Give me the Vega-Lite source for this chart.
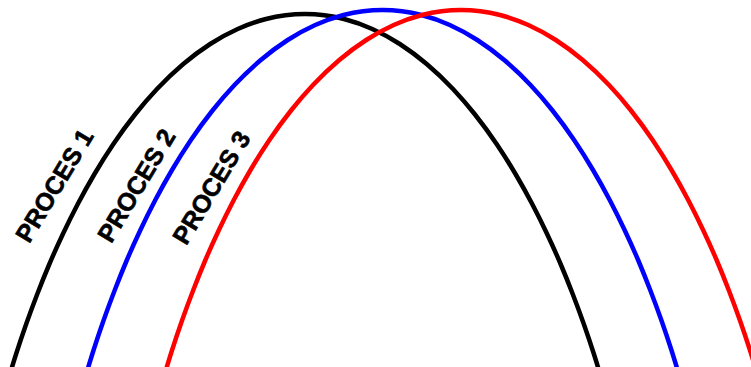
{
  "$schema": "https://vega.github.io/schema/vega-lite/v6.json",
  "width": 751,
  "height": 367,
  "padding": 0,
  "autosize": {"type": "fit", "contains": "padding"},
  "background": "white",
  "config": {"view": {"stroke": null}},
  "datasets": {
    "curves": [
      {"proces": "PROCES 1", "t": 6.9, "level": -17},
      {"proces": "PROCES 1", "t": 16.1, "level": 13},
      {"proces": "PROCES 1", "t": 26.2, "level": 43},
      {"proces": "PROCES 1", "t": 37.3, "level": 73},
      {"proces": "PROCES 1", "t": 49.4, "level": 103},
      {"proces": "PROCES 1", "t": 62.9, "level": 133},
      {"proces": "PROCES 1", "t": 77.8, "level": 163},
      {"proces": "PROCES 1", "t": 94.5, "level": 193},
      {"proces": "PROCES 1", "t": 113.4, "level": 223},
      {"proces": "PROCES 1", "t": 135.4, "level": 253},
      {"proces": "PROCES 1", "t": 157.0, "level": 278},
      {"proces": "PROCES 1", "t": 183.3, "level": 303},
      {"proces": "PROCES 1", "t": 210.2, "level": 323},
      {"proces": "PROCES 1", "t": 237.7, "level": 338},
      {"proces": "PROCES 1", "t": 266.0, "level": 348},
      {"proces": "PROCES 1", "t": 305.0, "level": 353},
      {"proces": "PROCES 1", "t": 344.0, "level": 348},
      {"proces": "PROCES 1", "t": 372.3, "level": 338},
      {"proces": "PROCES 1", "t": 399.8, "level": 323},
      {"proces": "PROCES 1", "t": 426.7, "level": 303},
      {"proces": "PROCES 1", "t": 453.0, "level": 278},
      {"proces": "PROCES 1", "t": 474.6, "level": 253},
      {"proces": "PROCES 1", "t": 496.6, "level": 223},
      {"proces": "PROCES 1", "t": 515.5, "level": 193},
      {"proces": "PROCES 1", "t": 532.2, "level": 163},
      {"proces": "PROCES 1", "t": 547.1, "level": 133},
      {"proces": "PROCES 1", "t": 560.6, "level": 103},
      {"proces": "PROCES 1", "t": 572.7, "level": 73},
      {"proces": "PROCES 1", "t": 583.8, "level": 43},
      {"proces": "PROCES 1", "t": 593.9, "level": 13},
      {"proces": "PROCES 1", "t": 603.1, "level": -17},

      {"proces": "PROCES 2", "t": 84.4, "level": -13},
      {"proces": "PROCES 2", "t": 93.6, "level": 17},
      {"proces": "PROCES 2", "t": 103.7, "level": 47},
      {"proces": "PROCES 2", "t": 114.8, "level": 77},
      {"proces": "PROCES 2", "t": 126.9, "level": 107},
      {"proces": "PROCES 2", "t": 140.4, "level": 137},
      {"proces": "PROCES 2", "t": 155.3, "level": 167},
      {"proces": "PROCES 2", "t": 172.0, "level": 197},
      {"proces": "PROCES 2", "t": 190.9, "level": 227},
      {"proces": "PROCES 2", "t": 212.9, "level": 257},
      {"proces": "PROCES 2", "t": 234.5, "level": 282},
      {"proces": "PROCES 2", "t": 260.8, "level": 307},
      {"proces": "PROCES 2", "t": 287.7, "level": 327},
      {"proces": "PROCES 2", "t": 315.2, "level": 342},
      {"proces": "PROCES 2", "t": 343.5, "level": 352},
      {"proces": "PROCES 2", "t": 382.5, "level": 357},
      {"proces": "PROCES 2", "t": 421.5, "level": 352},
      {"proces": "PROCES 2", "t": 449.8, "level": 342},
      {"proces": "PROCES 2", "t": 477.3, "level": 327},
      {"proces": "PROCES 2", "t": 504.2, "level": 307},
      {"proces": "PROCES 2", "t": 530.5, "level": 282},
      {"proces": "PROCES 2", "t": 552.1, "level": 257},
      {"proces": "PROCES 2", "t": 574.1, "level": 227},
      {"proces": "PROCES 2", "t": 593.0, "level": 197},
      {"proces": "PROCES 2", "t": 609.7, "level": 167},
      {"proces": "PROCES 2", "t": 624.6, "level": 137},
      {"proces": "PROCES 2", "t": 638.1, "level": 107},
      {"proces": "PROCES 2", "t": 650.2, "level": 77},
      {"proces": "PROCES 2", "t": 661.3, "level": 47},
      {"proces": "PROCES 2", "t": 671.4, "level": 17},
      {"proces": "PROCES 2", "t": 680.6, "level": -13},

      {"proces": "PROCES 3", "t": 162.9, "level": -13},
      {"proces": "PROCES 3", "t": 172.1, "level": 17},
      {"proces": "PROCES 3", "t": 182.2, "level": 47},
      {"proces": "PROCES 3", "t": 193.3, "level": 77},
      {"proces": "PROCES 3", "t": 205.4, "level": 107},
      {"proces": "PROCES 3", "t": 218.9, "level": 137},
      {"proces": "PROCES 3", "t": 233.8, "level": 167},
      {"proces": "PROCES 3", "t": 250.5, "level": 197},
      {"proces": "PROCES 3", "t": 269.4, "level": 227},
      {"proces": "PROCES 3", "t": 291.4, "level": 257},
      {"proces": "PROCES 3", "t": 313.0, "level": 282},
      {"proces": "PROCES 3", "t": 339.3, "level": 307},
      {"proces": "PROCES 3", "t": 366.2, "level": 327},
      {"proces": "PROCES 3", "t": 393.7, "level": 342},
      {"proces": "PROCES 3", "t": 422.0, "level": 352},
      {"proces": "PROCES 3", "t": 461.0, "level": 357},
      {"proces": "PROCES 3", "t": 500.0, "level": 352},
      {"proces": "PROCES 3", "t": 528.3, "level": 342},
      {"proces": "PROCES 3", "t": 555.8, "level": 327},
      {"proces": "PROCES 3", "t": 582.7, "level": 307},
      {"proces": "PROCES 3", "t": 609.0, "level": 282},
      {"proces": "PROCES 3", "t": 630.6, "level": 257},
      {"proces": "PROCES 3", "t": 652.6, "level": 227},
      {"proces": "PROCES 3", "t": 671.5, "level": 197},
      {"proces": "PROCES 3", "t": 688.2, "level": 167},
      {"proces": "PROCES 3", "t": 703.1, "level": 137},
      {"proces": "PROCES 3", "t": 716.6, "level": 107},
      {"proces": "PROCES 3", "t": 728.7, "level": 77},
      {"proces": "PROCES 3", "t": 739.8, "level": 47},
      {"proces": "PROCES 3", "t": 749.9, "level": 17},
      {"proces": "PROCES 3", "t": 759.1, "level": -13}
    ],
    "labels": [
      {"proces": "PROCES 1", "t": 55, "level": 181},
      {"proces": "PROCES 2", "t": 137, "level": 181},
      {"proces": "PROCES 3", "t": 212, "level": 179}
    ]
  },
  "encoding": {
    "x": {
      "field": "t",
      "type": "quantitative",
      "scale": {"domain": [0, 751], "nice": false, "zero": false},
      "axis": null
    },
    "y": {
      "field": "level",
      "type": "quantitative",
      "scale": {"domain": [0, 367], "nice": false, "zero": false},
      "axis": null
    }
  },
  "layer": [
    {
      "data": {"name": "curves"},
      "mark": {"type": "line", "interpolate": "monotone", "strokeWidth": 4.5, "clip": true},
      "encoding": {
        "color": {
          "field": "proces",
          "type": "nominal",
          "scale": {"domain": ["PROCES 1", "PROCES 2", "PROCES 3"], "range": ["#000000", "#0000ff", "#ff0000"]},
          "legend": null
        }
      }
    },
    {
      "data": {"name": "labels"},
      "mark": {
        "type": "text",
        "angle": -59,
        "align": "center",
        "baseline": "middle",
        "font": "Liberation Sans",
        "fontWeight": "bold",
        "fontSize": 25,
        "color": "#000000",
        "stroke": "#000000",
        "strokeWidth": 0.6
      },
      "encoding": {"text": {"field": "proces"}}
    }
  ]
}
